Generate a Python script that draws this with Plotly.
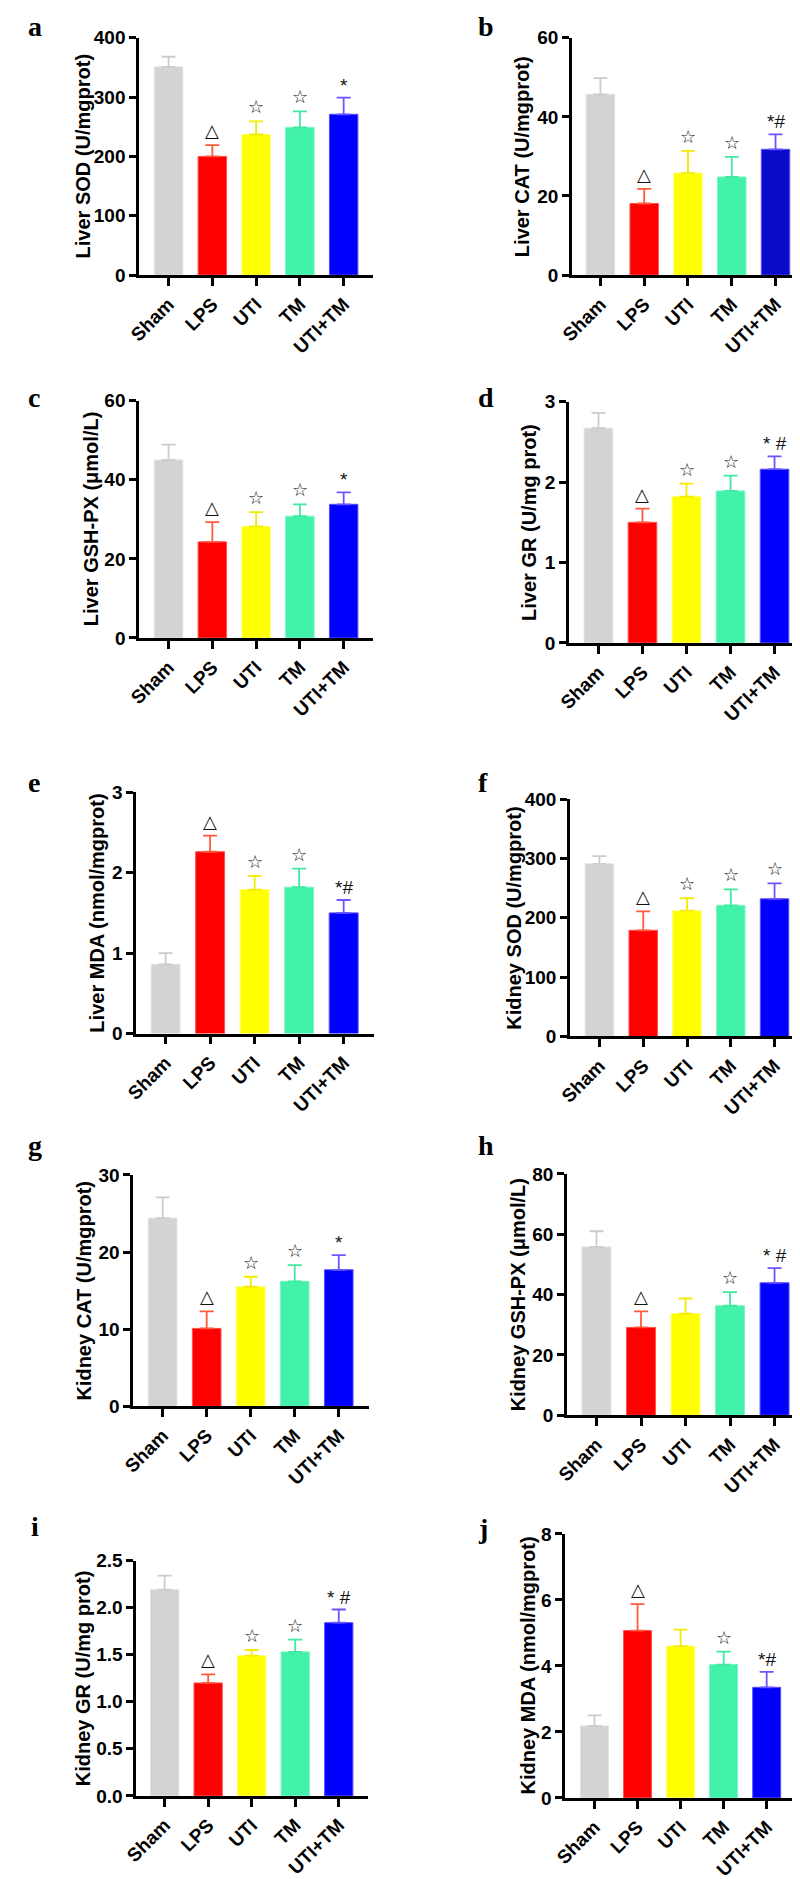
import plotly.graph_objects as go

W, H = 800, 1879

groups = ["Sham", "LPS", "UTI", "TM", "UTI+TM"]

# ---- data (mean, upper error) per panel ----
a_mean = [351, 200, 237, 249, 271]
a_err = [17, 19, 22, 27, 28]
b_mean = [45.7, 18.1, 25.8, 24.8, 31.8]
b_err = [4.1, 3.7, 5.6, 5.1, 3.8]
c_mean = [45.0, 24.3, 28.2, 30.8, 33.8]
c_err = [3.9, 5.0, 3.6, 3.0, 3.0]
d_mean = [2.67, 1.50, 1.82, 1.89, 2.16]
d_err = [0.19, 0.17, 0.16, 0.19, 0.16]
e_mean = [0.86, 2.26, 1.79, 1.82, 1.50]
e_err = [0.14, 0.20, 0.17, 0.23, 0.16]
f_mean = [291, 179, 212, 221, 232]
f_err = [13, 32, 21, 27, 26]
g_mean = [24.4, 10.1, 15.5, 16.2, 17.7]
g_err = [2.7, 2.2, 1.3, 2.1, 1.9]
h_mean = [55.8, 29.1, 33.7, 36.3, 43.9]
h_err = [5.2, 5.3, 5.0, 4.5, 4.9]
i_mean = [2.19, 1.20, 1.49, 1.53, 1.84]
i_err = [0.15, 0.09, 0.06, 0.13, 0.14]
j_mean = [2.18, 5.07, 4.60, 4.04, 3.35]
j_err = [0.32, 0.80, 0.50, 0.39, 0.47]

a_marks = ["", "△", "☆", "☆", "*"]
b_marks = ["", "△", "☆", "☆", "*#"]
c_marks = ["", "△", "☆", "☆", "*"]
d_marks = ["", "△", "☆", "☆", "* #"]
e_marks = ["", "△", "☆", "☆", "*#"]
f_marks = ["", "△", "☆", "☆", "☆"]
g_marks = ["", "△", "☆", "☆", "*"]
h_marks = ["", "△", "", "☆", "* #"]
i_marks = ["", "△", "☆", "☆", "* #"]
j_marks = ["", "△", "", "☆", "*#"]

titles = [
    "Liver SOD (U/mgprot)", "Liver CAT (U/mgprot)", "Liver GSH-PX (μmol/L)",
    "Liver GR (U/mg prot)", "Liver MDA (nmol/mgprot)", "Kidney SOD (U/mgprot)",
    "Kidney CAT (U/mgprot)", "Kidney GSH-PX (μmol/L)", "Kidney GR (U/mg prot)",
    "Kidney MDA (nmol/mgprot)",
]
letters = ["a", "b", "c", "d", "e", "f", "g", "h", "i", "j"]
ymax = [400, 60, 60, 3, 3, 400, 30, 80, 2.5, 8]
ydtick = [100, 20, 20, 1, 1, 100, 10, 20, 0.5, 2]
ytickfmt = ["", "", "", "", "", "", "", "", ".1f", ""]

means = [a_mean, b_mean, c_mean, d_mean, e_mean, f_mean, g_mean, h_mean, i_mean, j_mean]
errs = [a_err, b_err, c_err, d_err, e_err, f_err, g_err, h_err, i_err, j_err]
marks = [a_marks, b_marks, c_marks, d_marks, e_marks, f_marks, g_marks, h_marks, i_marks, j_marks]

# ---- layout geometry (pixels) ----
# (y-axis x, x-axis end, first cat x, last cat x, top y, zero y)
geom = [
    (120, 358, 150, 328, 20, 260),
    (560, 798, 589, 767, 20, 260),
    (120, 358, 150, 328, 387, 627),
    (557, 797, 587, 766, 388, 632),
    (117, 359, 147, 328, 783, 1027),
    (558, 797, 588, 766, 790, 1030),
    (114, 354, 144, 323, 1170, 1404),
    (555, 797, 585, 766, 1169, 1413),
    (117, 353, 146, 323, 1560, 1798),
    (553, 788, 583, 758, 1533, 1800),
]
title_x = [63, 510, 72, 517, 77, 501, 64, 505, 63, 515]
letter_pos = [(5, 18), (463, 18), (5, 393), (463, 393), (5, 783), (463, 783),
              (5, 1150), (463, 1150), (8, 1535), (463, 1537)]

bar_colors = ["#d3d3d3", "#ff0000", "#ffff00", "#42f2aa", "#0000ff"]
line_colors = ["#e2e2e2", "#ff5050", "#ffff70", "#7af5c4", "#5a4cff"]
err_colors = ["#cccccc", "#ff5a3c", "#f2ec00", "#40e8a0", "#6a55ff"]

FONT = "Liberation Sans, Arial, sans-serif"

fig = go.Figure()
layout = dict(
    width=W, height=H, margin=dict(l=0, r=0, t=0, b=0),
    paper_bgcolor="white", plot_bgcolor="white",
    showlegend=False, barmode="overlay",
)
annotations = []

for p in range(10):
    x0, x1, c0, c4, ytop, yzero = geom[p]
    s = (c4 - c0) / 4.0
    xr = [(x0 - c0) / s, (x1 - c0) / s]
    ax = "" if p == 0 else str(p + 1)
    xa, ya = "x" + ax, "y" + ax
    for k, gname in enumerate(groups):
        bc = bar_colors[k]
        if p == 1 and k == 4:
            bc = "#0a0ac8"
        fig.add_trace(go.Bar(
            x=[gname], y=[means[p][k]], width=0.65,
            marker=dict(color=bc, line=dict(color=line_colors[k], width=1)),
            error_y=dict(type="data", symmetric=False, array=[errs[p][k]], arrayminus=[0],
                         color=err_colors[k], thickness=1.8, width=7),
            xaxis=xa, yaxis=ya, hoverinfo="skip",
        ))
        mk = marks[p][k]
        if mk:
            sym = mk in ("△", "☆")
            annotations.append(dict(
                x=gname, y=means[p][k] + errs[p][k], xref=xa, yref=ya,
                text=mk, showarrow=False, yanchor="bottom", yshift=2 if sym else 0,
                font=dict(family="DejaVu Sans" if sym else FONT, size=18 if sym else 19,
                          color="#111111"),
            ))
    layout["xaxis" + ax] = dict(
        domain=[x0 / W, x1 / W], range=xr, anchor=ya, type="category",
        categoryorder="array", categoryarray=groups,
        showline=True, linecolor="black", linewidth=2.5,
        ticks="outside", ticklen=8, tickwidth=2.5, tickcolor="black",
        tickangle=-45, tickfont=dict(family=FONT, size=19, color="black", weight="bold"),
        showgrid=False, zeroline=False, fixedrange=True,
    )
    layout["yaxis" + ax] = dict(
        domain=[1 - yzero / H, 1 - ytop / H], range=[0, ymax[p]], anchor=xa,
        tickmode="linear", tick0=0, dtick=ydtick[p], tickformat=ytickfmt[p],
        showline=True, linecolor="black", linewidth=2.5,
        ticks="outside", ticklen=7, tickwidth=2.5, tickcolor="black",
        tickfont=dict(family=FONT, size=19, color="black", weight="bold"),
        showgrid=False, zeroline=False, fixedrange=True,
    )
    annotations.append(dict(
        x=title_x[p] / W, y=1 - ((ytop + yzero) / 2) / H, xref="paper", yref="paper",
        text=titles[p], textangle=-90, showarrow=False, xanchor="center", yanchor="middle",
        font=dict(family=FONT, size=20, color="black", weight="bold"),
    ))
    lx, lb = letter_pos[p]
    annotations.append(dict(
        x=lx / W, y=1 - (lb + 8) / H, xref="paper", yref="paper",
        text=letters[p], showarrow=False, xanchor="left", yanchor="bottom",
        font=dict(family="Liberation Serif, Times New Roman, serif", size=28,
                  color="black", weight="bold"),
    ))

layout["annotations"] = annotations
fig.update_layout(**layout)
fig.write_html("out.html")
